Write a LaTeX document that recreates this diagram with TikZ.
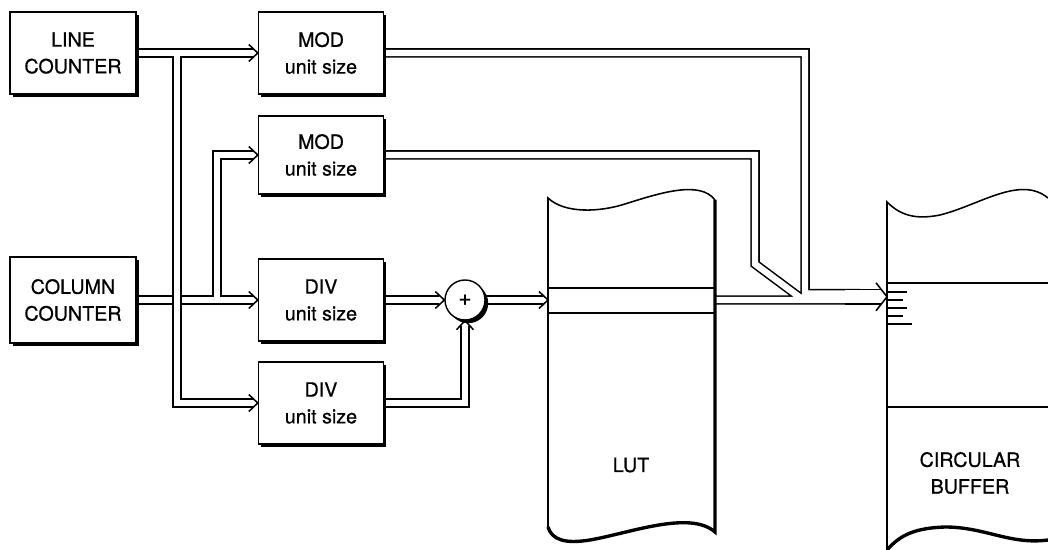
\documentclass[tikz,border=0pt]{standalone}
\usepackage{fontspec}
\setmainfont{TeX Gyre Heros}[FakeBold=0.6]
\usetikzlibrary{arrows.meta,shadows,backgrounds}

\tikzset{
  pipehead/.pic={\draw[line width=1.1pt] (-9,-8.5) -- (0,0) -- (-9,8.5);},
  widehead/.pic={\draw[line width=1.1pt] (-11,-14) -- (0,0) -- (-11,14);}
}

\begin{document}
\begin{tikzpicture}[
  x=0.025cm, y=-0.025cm,
  font=\fontsize{14}{19}\selectfont,
  blockbox/.style={draw, fill=white, line width=1pt, minimum width=3.125cm,
    minimum height=2.05cm, align=center,
    drop shadow={shadow xshift=0.065cm, shadow yshift=-0.065cm, opacity=1, fill=black}},
  pipe/.style={double, double distance=0.16cm, line width=1.1pt},
  pipeto/.style={pipe, shorten >=0.12cm},
  memline/.style={line width=1.1pt},
  memedge/.style={line width=2.4pt}
]
\useasboundingbox (0,0) rectangle (1048,550);

% counters
\node[blockbox, minimum width=3.15cm] (linectr) at (73,53) {LINE\\COUNTER};
\node[blockbox, minimum width=3.15cm, minimum height=2.15cm] (colctr) at (73,300) {COLUMN\\COUNTER};

% MOD / DIV units
\node[blockbox] (mod1) at (321,53) {MOD\\unit size};
\node[blockbox, minimum height=1.95cm] (mod2) at (321,155) {MOD\\unit size};
\node[blockbox] (div1) at (321,300) {DIV\\unit size};
\node[blockbox] (div2) at (321,403) {DIV\\unit size};

% adder
\node[draw, circle, fill=white, minimum size=1cm, inner sep=0pt, line width=1pt,
  drop shadow={shadow xshift=0.08cm, shadow yshift=-0.08cm, opacity=1, fill=black}]
  (adder) at (465,300) {\fontsize{16}{16}\selectfont +};

\coordinate (lut-in) at (548,300);
\coordinate (lut-out) at (715,300);
\coordinate (buf-in) at (887,296.8);

\begin{scope}[on background layer]
% column counter bus
\draw[pipe] (colctr.east) -- (235,300) (217,300) -- (217,155) -- (235,155);
\draw[pipeto] (225,300) -- (div1.west);
\pic at (div1.west) {pipehead};
\draw[pipeto] (225,155) -- (mod2.west);
\pic at (mod2.west) {pipehead};
% line counter bus
\draw[pipe] (linectr.east) -- (235,53) (177,53) -- (177,403) -- (235,403);
\draw[pipeto] (225,53) -- (mod1.west);
\pic at (mod1.west) {pipehead};
\draw[pipeto] (225,403) -- (div2.west);
\pic at (div2.west) {pipehead};
% adder
\draw[pipeto] (div1.east) -- (adder.west);
\pic at (adder.west) {pipehead};
\draw[pipeto] (div2.east) -| (adder.south);
\pic[rotate=90] at (adder.south) {pipehead};
\draw[pipeto] (adder.east) -- (lut-in);
\pic at (lut-in) {pipehead};
% address into the buffer
\draw[pipe] (mod1.east) -- (805,53) -- (805,293.6) -- (860,293.6)
  (lut-out) -- (860,300)
  (mod2.east) -- (755,155) -- (755,264) -- (802,299);
\draw[pipe, double distance=0.32cm, shorten >=0.134cm] (845,296.8) -- (buf-in);
\pic at (buf-in) {widehead};
\end{scope}

% LUT
\draw[memline] (715,200) .. controls (700,180) and (660,193) .. (625,204)
  .. controls (600,212) and (565,214) .. (548,198) -- (548,527);
\draw[memedge] (548,527) .. controls (552,540) and (565,544) .. (590,540)
  .. controls (630,533) and (690,510) .. (715,532) -- (715,200);
\draw[memline] (548,288) -- (715,288) (548,313) -- (715,313);
\node (lut) at (631,465) {LUT};

% circular buffer
\draw[memline] (1048,198) .. controls (1020,175) and (980,205) .. (940,215)
  .. controls (915,220) and (900,215) .. (887,202) -- (887,550);
\draw[memedge] (887,550) .. controls (900,535) and (915,528) .. (945,527)
  .. controls (985,527) and (1010,545) .. (1048,540);
\draw[memline] (887,283) -- (1048,283) (887,407) -- (1048,407);
\foreach \ty/\tl in {292/20, 300/16, 308/20, 316/16, 324/25}
  \draw[line width=0.8pt] (887,\ty) -- ++(\tl,0);
\node[align=center] (buffer) at (970,473) {CIRCULAR\\BUFFER};
\end{tikzpicture}
\end{document}
